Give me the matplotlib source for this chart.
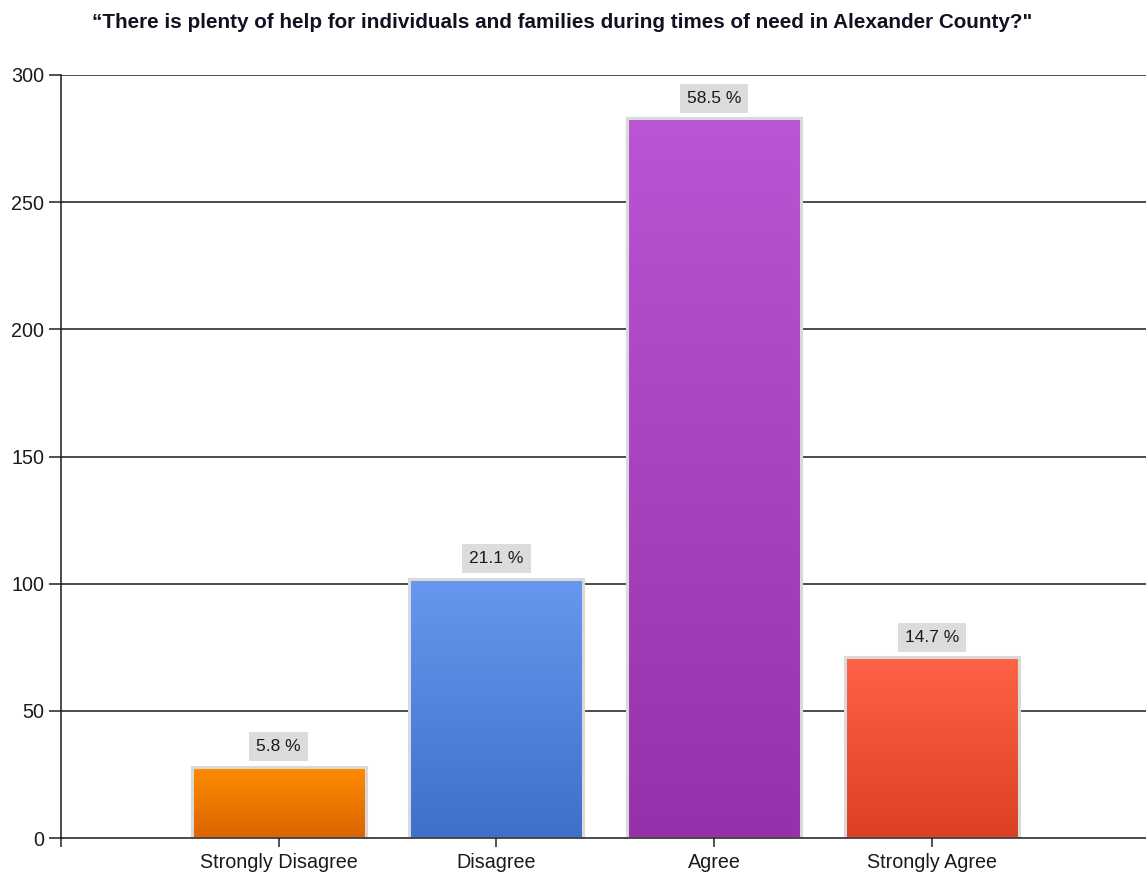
import matplotlib
matplotlib.use("Agg")
import matplotlib.pyplot as plt
import numpy as np
from matplotlib.colors import LinearSegmentedColormap

plt.rcParams['font.family'] = ['Liberation Sans', 'DejaVu Sans']

title = "\u201cThere is plenty of help for individuals and families during times of need in Alexander County?\""
categories = ["Strongly Disagree", "Disagree", "Agree", "Strongly Agree"]
counts = [28, 102, 283, 71]
pct_labels = ["5.8 %", "21.1 %", "58.5 %", "14.7 %"]
top_colors = ["#FF8C00", "#6797EE", "#BA55D3", "#FF6347"]
bottom_colors = ["#DA6400", "#3F6FC9", "#9630AB", "#DB4023"]
yticks = [0, 50, 100, 150, 200, 250, 300]

W, H = 1146, 873
fig = plt.figure(figsize=(W / 100, H / 100), dpi=100)
ax = fig.add_axes([61 / W, 1 - 838 / H, 1088.5 / W, (838 - 75) / H])

x = np.arange(1, len(categories) + 1)
bars = ax.bar(x, counts, width=0.8, facecolor='none', edgecolor='#D9D9D9',
              linewidth=2.2, zorder=4)

for b, c0, c1 in zip(bars, top_colors, bottom_colors):
    cmap = LinearSegmentedColormap.from_list('g', [c1, c0])
    grad = np.linspace(0, 1, 256).reshape(-1, 1)
    bx, by = b.get_x(), b.get_y()
    bw, bh = b.get_width(), b.get_height()
    im = ax.imshow(grad, cmap=cmap, origin='lower', aspect='auto',
                   extent=[bx, bx + bw, by, by + bh], zorder=3)
    im.set_clip_path(b)
    ax.add_patch(plt.Rectangle((bx, by), bw, bh, facecolor='white',
                               edgecolor='#D9D9D9', linewidth=2.2, zorder=2.5))

for xi, v, lab in zip(x, counts, pct_labels):
    ax.annotate(lab, (xi, v), xytext=(0, 14.5), textcoords='offset points',
                ha='center', va='center', fontsize=12.5, color='#1a1a1a',
                bbox=dict(boxstyle='square,pad=0.4', facecolor='#DCDCDC',
                          edgecolor='none'), zorder=5)

ax.set_xlim(0, 5)
ax.set_ylim(0, 300)
ax.set_yticks(yticks)
ax.set_yticklabels([str(t) for t in yticks], fontsize=14.2, color='#1a1a1a')
ax.set_xticks([0] + list(x))
ax.set_xticklabels([''] + categories, fontsize=14.2, color='#1a1a1a')
ax.tick_params(axis='y', length=9, width=1.1, color='#222222', pad=3)
ax.tick_params(axis='x', length=6.5, width=1.1, color='#222222', pad=4.5)

for t in yticks[1:]:
    ax.axhline(t, color='#1a1a1a', linewidth=1.1, zorder=1)

for s in ['top', 'right']:
    ax.spines[s].set_visible(False)
for s in ['left', 'bottom']:
    ax.spines[s].set_color('#1a1a1a')
    ax.spines[s].set_linewidth(1.1)
    ax.spines[s].set_zorder(6)

fig.text(562 / W, 1 - 22 / H, title, ha='center', va='center',
         fontsize=14.9, fontweight='bold', color='#111122')

fig.savefig('out.png', dpi=100)
